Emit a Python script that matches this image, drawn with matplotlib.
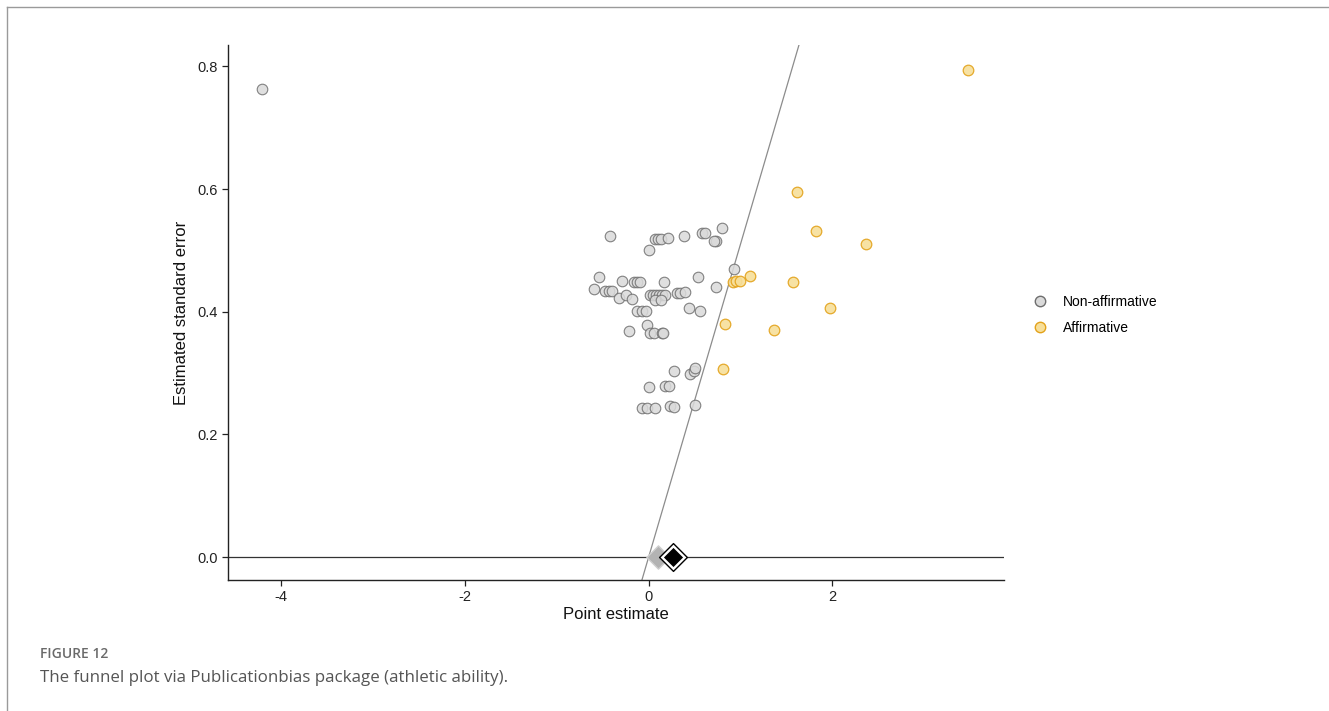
import matplotlib.pyplot as plt
from matplotlib.lines import Line2D
import numpy as np

plt.rcParams['font.family'] = ['Liberation Sans', 'DejaVu Sans']
plt.rcParams['axes.unicode_minus'] = False

# non-affirmative studies: point estimate, standard error
non_est = [-4.21, -0.425, 0.073, 0.106, 0.138, 0.207, 0.381, 0.581, 0.617, 0.799,
           0.737, 0.71, 0.008, 0.926, -0.544, -0.29, -0.163, -0.126, -0.09, 0.171,
           0.538, 0.734, -0.599, -0.472, -0.436, -0.399, -0.327, -0.243, -0.181,
           0.019, 0.051, 0.084, 0.117, 0.149, 0.182, 0.07, 0.13,
           0.309, 0.345, 0.40, 0.436, 0.563, -0.126, -0.072, -0.025, -0.017,
           -0.21, 0.019, 0.054, 0.14, 0.155, 0.28, 0.454, 0.49, 0.509,
           0.0, 0.182, 0.218, -0.072, -0.017, 0.073, 0.236, 0.272, 0.509]
non_se = [0.764, 0.524, 0.518, 0.518, 0.518, 0.52, 0.523, 0.528, 0.529, 0.537,
          0.516, 0.516, 0.5, 0.47, 0.456, 0.45, 0.448, 0.448, 0.448, 0.449,
          0.456, 0.441, 0.437, 0.434, 0.434, 0.434, 0.422, 0.428, 0.42,
          0.427, 0.427, 0.427, 0.427, 0.427, 0.427, 0.419, 0.419,
          0.43, 0.43, 0.432, 0.406, 0.401, 0.401, 0.401, 0.401, 0.379,
          0.368, 0.366, 0.366, 0.366, 0.366, 0.303, 0.299, 0.304, 0.308,
          0.278, 0.279, 0.279, 0.243, 0.243, 0.243, 0.246, 0.245, 0.248]

# affirmative studies
aff_est = [3.481, 1.616, 1.826, 2.367, 1.10, 0.919, 0.955, 0.991, 1.568, 1.975,
           0.832, 1.361, 0.806]
aff_se = [0.794, 0.595, 0.531, 0.511, 0.458, 0.449, 0.45, 0.45, 0.448, 0.406,
          0.38, 0.37, 0.306]

# pooled estimates shown on the zero line
pooled_all = 0.102
pooled_worst = 0.261
crit = 1.96

fig = plt.figure(figsize=(13.29, 7.11), dpi=100)
ax = fig.add_axes([0.1716, 0.1842, 0.5839, 0.7525])

non_face, non_edge = '#dadada', '#6e6e6e'
aff_face, aff_edge = '#f7df9a', '#e3a21a'

ax.scatter(non_est, non_se, s=58, facecolor=non_face, edgecolor=non_edge,
           linewidth=0.8, alpha=0.85, zorder=3)
ax.scatter(aff_est, aff_se, s=58, facecolor=aff_face, edgecolor=aff_edge,
           linewidth=0.9, alpha=0.9, zorder=3)

ax.axhline(0, color='#333333', linewidth=0.9, zorder=1)
se_line = np.array([-0.05, 0.9])
ax.plot(crit * se_line, se_line, color='#8c8c8c', linewidth=0.9, zorder=2)

ax.scatter([pooled_all], [0], marker='D', s=140, facecolor='#b3b3b3',
           edgecolor='#cfcfcf', linewidth=1, zorder=4)
ax.scatter([pooled_worst], [0], marker='D', s=120, facecolor='black',
           edgecolor='white', linewidth=1.2, zorder=6)
ax.scatter([pooled_worst], [0], marker='D', s=200, facecolor='white',
           edgecolor='black', linewidth=1, zorder=5)

ax.set_xlim(-4.58, 3.87)
ax.set_ylim(-0.0375, 0.835)
ax.set_xticks([-4, -2, 0, 2])
ax.set_yticks([0.0, 0.2, 0.4, 0.6, 0.8])
ax.set_yticklabels(['0.0', '0.2', '0.4', '0.6', '0.8'])
for side in ['top', 'right']:
    ax.spines[side].set_visible(False)
for side in ['left', 'bottom']:
    ax.spines[side].set_color('#222222')
    ax.spines[side].set_linewidth(1.0)
ax.tick_params(colors='#222222', labelsize=10.5, length=4, width=0.9)
ax.set_xlabel('Point estimate', fontsize=12, color='#111111', labelpad=2)
ax.set_ylabel('Estimated standard error', fontsize=12, color='#111111', labelpad=6)

handles = [Line2D([], [], marker='o', linestyle='none', markersize=7.5,
                  markerfacecolor=non_face, markeredgecolor=non_edge),
           Line2D([], [], marker='o', linestyle='none', markersize=7.5,
                  markerfacecolor=aff_face, markeredgecolor=aff_edge)]
fig.legend(handles, ['Non-affirmative', 'Affirmative'], loc='center left',
           bbox_to_anchor=(0.763, 0.557), frameon=False, fontsize=10,
           handletextpad=0.6, labelspacing=0.85)

# page frame and caption
fig.add_artist(Line2D([0.0053, 1], [0.990, 0.990], color='#9a9a9a', linewidth=1))
fig.add_artist(Line2D([0.0053, 0.0053], [0, 0.990], color='#9a9a9a', linewidth=1))
fig.text(0.030, 0.080, 'FIGURE 12', fontsize=10, color='#6a6a6a', weight='semibold',
         family=['Open Sans', 'DejaVu Sans'], va='center')
fig.text(0.030, 0.047, 'The funnel plot via Publicationbias package (athletic ability).',
         fontsize=12.2, color='#555555', family=['Open Sans', 'DejaVu Sans'],
         va='center')

fig.savefig('out.png', dpi=100, facecolor='white')
